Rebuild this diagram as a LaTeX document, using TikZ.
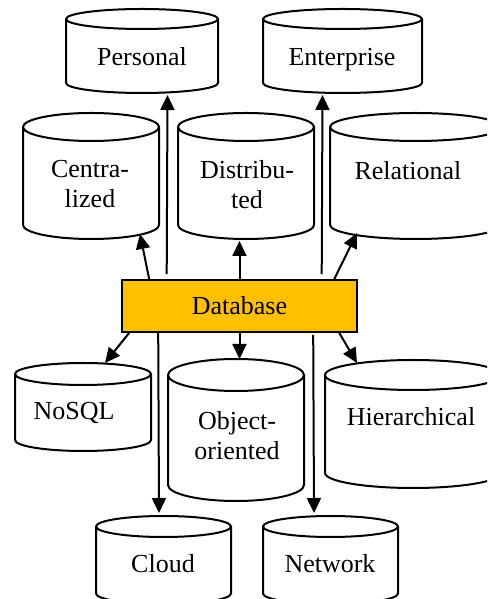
\documentclass[tikz,border=0pt]{standalone}
\usepackage{fontspec}
\setmainfont{Liberation Serif}
\usetikzlibrary{arrows.meta}
\definecolor{dbfill}{HTML}{FFC000}

% cylinder: name, left x, right x, top y, bottom y, cap half-height
\newcommand\dbcyl[6]{%
  \pgfmathsetmacro\cylw{#3-#2}%
  \pgfmathsetmacro\cylh{#4-#5}%
  \pgfmathsetmacro\cylrx{(#3-#2)/2}%
  \node[cylframe, minimum width=\cylw pt, minimum height=\cylh pt] (#1)
    at ({(#2+#3)/2},{(#4+#5)/2}) {};
  \draw[cylline] ([yshift=-#6pt]#1.north west)
      arc[start angle=180, end angle=-180, x radius=\cylrx pt, y radius=#6pt]
      -- ([yshift=#6pt]#1.south west)
      arc[start angle=180, end angle=360, x radius=\cylrx pt, y radius=#6pt]
      -- ([yshift=-#6pt]#1.north east);
}

\begin{document}
\begin{tikzpicture}[x=1pt, y=1pt,
  cylframe/.style={rectangle, inner sep=0pt, outer sep=0pt, draw=none},
  cylline/.style={line width=2pt, line join=round},
  lbl/.style={inner sep=0pt, align=center, font=\fontsize{26}{30}\selectfont},
  arr/.style={line width=2pt, -{Triangle[length=15pt, width=14pt]}},
  dbbox/.style={rectangle, draw, line width=1.6pt, fill=dbfill, inner sep=0pt,
    minimum width=235pt, minimum height=52pt}]
\useasboundingbox (0,0) rectangle (487,599);
\clip (0,0) rectangle (487,599);

% upper row of stores
\dbcyl{personal}{66}{218}{590}{506}{10}
\dbcyl{enterprise}{263}{422}{590}{506}{10}
\dbcyl{centralized}{23}{159}{486}{360}{14}
\dbcyl{distributed}{178}{314}{486}{360}{14}
\dbcyl{relational}{330}{501}{486}{360}{14}

% lower row of stores
\dbcyl{nosql}{15}{151}{236}{148}{11}
\dbcyl{object}{168}{304}{240}{98}{16}
\dbcyl{hierarchical}{325}{501}{239}{111}{15}
\dbcyl{cloud}{96}{231}{83}{-5}{10.5}
\dbcyl{network}{263}{398}{83}{-5}{10.5}

% central box
\node[dbbox] (dbox) at (239.5,293) {};
\node[lbl, anchor=base] (dbox-t) at (239.5,284) {Database};

% labels
\node[lbl, anchor=base] (personal-t) at (142,533) {Personal};
\node[lbl, anchor=base] (enterprise-t) at (342,533) {Enterprise};
\node[lbl] (centralized-t) at (90,414.8) {Centra-\\lized};
\node[lbl] (distributed-t) at (247,414.8) {Distribu-\\ted};
\node[lbl, anchor=base] (relational-t) at (408,419) {Relational};
\node[lbl, anchor=base] (nosql-t) at (74,179) {NoSQL};
\node[lbl] (object-t) at (237,163.8) {Object-\\oriented};
\node[lbl, anchor=base] (hierarchical-t) at (411,173) {Hierarchical};
\node[lbl, anchor=base] (cloud-t) at (163,26) {Cloud};
\node[lbl, anchor=base] (network-t) at (330,26) {Network};

% connectors upward
\draw[arr] ([xshift=28pt]dbox.north west) -- ([xshift=49pt, yshift=5pt]centralized.south);
\draw[arr] ([xshift=45.5pt, yshift=5pt]dbox.north west) -- ([xshift=25.5pt, yshift=-2pt]personal.south);
\draw[arr] (dbox.north) -- ([xshift=-6.5pt, yshift=-2pt]distributed.south);
\draw[arr] ([xshift=200.5pt, yshift=5pt]dbox.north west) -- ([xshift=-20pt, yshift=-2pt]enterprise.south);
\draw[arr] ([xshift=213pt]dbox.north west) -- ([xshift=-58.5pt, yshift=6pt]relational.south);

% connectors downward
\draw[arr] ([xshift=8pt]dbox.south west) -- ([xshift=22pt]nosql.north);
\draw[arr] ([xshift=37pt]dbox.south west) -- ([xshift=-4.5pt, yshift=3pt]cloud.north);
\draw[arr] (dbox.south) -- ([xshift=3.5pt]object.north);
\draw[arr] ([xshift=192pt, yshift=-2pt]dbox.south west) -- ([xshift=-16.5pt, yshift=3pt]network.north);
\draw[arr] ([xshift=218pt]dbox.south west) -- ([xshift=-56pt, yshift=-3pt]hierarchical.north);
\end{tikzpicture}
\end{document}
